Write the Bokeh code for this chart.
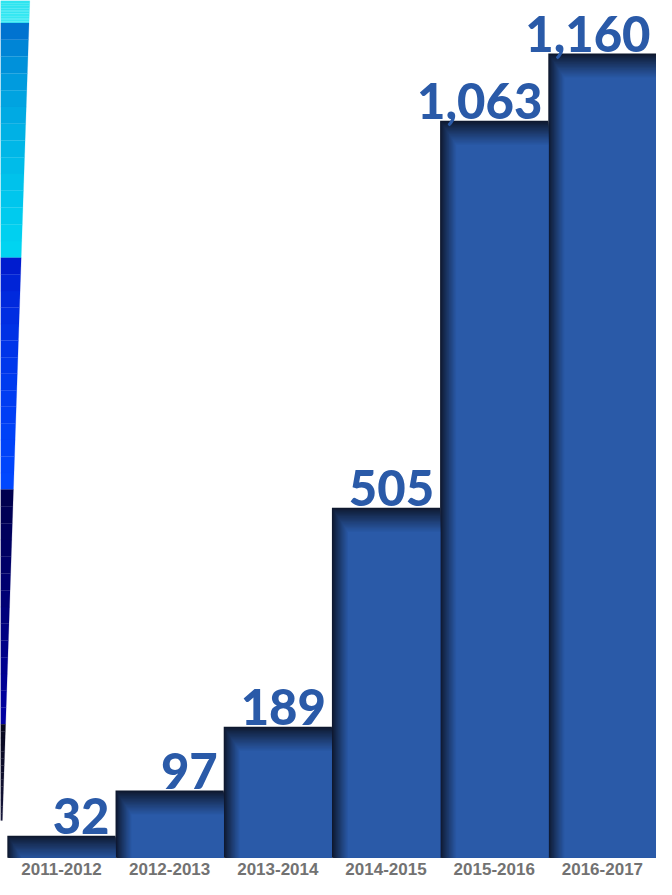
from bokeh.plotting import figure
from bokeh.models import Range1d, PolyAnnotation, ColumnDataSource
from bokeh.core.properties import value
from bokeh.embed import file_html
from bokeh.resources import INLINE

# ---- data ----
categories = ["2011-2012", "2012-2013", "2013-2014", "2014-2015", "2015-2016", "2016-2017"]
values = [32, 97, 189, 505, 1063, 1160]
value_labels = ["32", "97", "189", "505", "1,063", "1,160"]

# ---- layout ----
W, H = 656, 879
SX, SY = W / 672.0, H / 895.0
X0, X1 = -0.0632, 6.0
Y0, Y1 = -31.2, 1236.5

p = figure(width=W, height=H, output_backend="svg", toolbar_location=None,
           x_range=Range1d(X0, X1), y_range=Range1d(Y0, Y1),
           x_axis_location=None, y_axis_location=None, min_border=0)
p.grid.visible = False
p.outline_line_color = None
p.background_fill_color = "white"
p.border_fill_color = "white"


def hex2rgb(h):
    h = h.lstrip("#")
    return tuple(int(h[k:k + 2], 16) for k in (0, 2, 4))


def mix(c1, c2, t):
    a, b = hex2rgb(c1), hex2rgb(c2)
    return "#%02x%02x%02x" % tuple(int(round(a[k] + (b[k] - a[k]) * t)) for k in range(3))


# ---- decorative slanted strip on the left (screen units, y measured from bottom) ----
def edge(y):
    return 30 - 0.0336 * y

bands = [
    (0, 23, "#2fe4f0", "#3ceaf4", 1.0),
    (23, 262, "#0056c6", "#00d6f2", 0.45),
    (262, 498, "#0012c4", "#0048ff", 0.5),
    (498, 737, "#00004c", "#0000a4", 1.0),
    (737, 835, "#07071f", "#16163a", 1.0),
]
for (ya, yb, ca, cb, gam) in bands:
    steps = 14
    for s in range(steps):
        y_a = ya + (yb - ya) * s / steps
        y_b = ya + (yb - ya) * (s + 1) / steps
        col = mix(ca, cb, ((s + 0.5) / steps) ** gam)
        xs = [0, edge(y_a) * SX, edge(y_b) * SX, 0]
        ys = [H - y_a * SY, H - y_a * SY, H - y_b * SY, H - y_b * SY]
        p.add_layout(PolyAnnotation(xs=xs, ys=ys, xs_units="screen", ys_units="screen",
                                    fill_color=col, fill_alpha=1.0,
                                    line_color=col, line_width=0.6))

# ---- bars with inset dark shading on top and left ----
dark = "#0e182e"
base = "#2a5aa8"
xs_per_px = (X1 - X0) / W
ys_per_px = (Y1 - Y0) / H
top_px, left_px = 24.0, 16.0
N = 20
idx = list(range(len(values)))
for j in range(N + 1):
    t = j / N
    col = mix(dark, base, t ** 0.9)
    lefts = [i + t * left_px * xs_per_px for i in idx]
    rights = [i + 1 for i in idx]
    tops = [max(v - t * top_px * ys_per_px, 0) for v in values]
    src = ColumnDataSource(dict(left=lefts, right=rights, top=tops, bottom=[0] * len(values)))
    p.quad(left="left", right="right", top="top", bottom="bottom", source=src,
           fill_color=col, line_color=None)

# ---- value labels ----
lab_src = ColumnDataSource(dict(x=[i + 1 for i in idx], y=values, text=value_labels))
p.text(x="x", y="y", text="text", source=lab_src, text_align="right",
       text_baseline="bottom", x_offset=-6, y_offset=-2,
       text_font=value("Lato Black"), text_font_size="49px",
       text_color="#2a5aa8")

# ---- category labels ----
cat_src = ColumnDataSource(dict(x=[i + 0.5 for i in idx], y=[0] * len(values), text=categories))
p.text(x="x", y="y", text="text", source=cat_src, text_align="center",
       text_baseline="middle", y_offset=11,
       text_font=value("Liberation Sans"), text_font_style="bold", text_font_size="17px",
       text_color="#727272")

open("out.html", "w").write(file_html(p, INLINE))
